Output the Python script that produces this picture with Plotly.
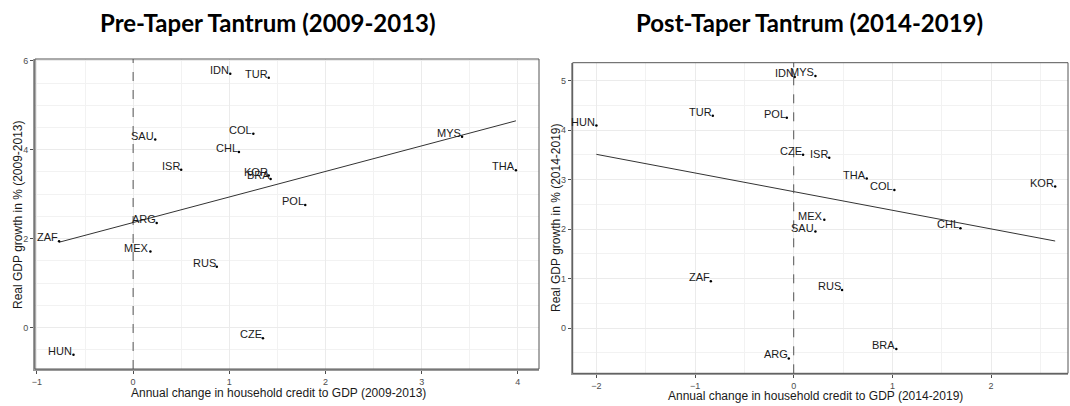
import plotly.graph_objects as go

# ---------------- data ----------------
pre_codes = ["IDN", "TUR", "SAU", "COL", "CHL", "ISR", "KOR", "BRA", "ARG",
             "ZAF", "MEX", "RUS", "CZE", "HUN", "POL", "MYS", "THA"]
pre_credit = [1.01, 1.41, 0.23, 1.25, 1.10, 0.50, 1.41, 1.43, 0.245,
              -0.77, 0.18, 0.87, 1.35, -0.62, 1.79, 3.42, 3.98]
pre_growth = [5.71, 5.62, 4.23, 4.36, 3.95, 3.55, 3.42, 3.34, 2.35,
              1.94, 1.71, 1.37, -0.24, -0.61, 2.76, 4.29, 3.54]
pre_fit_x = [-0.77, 3.98]
pre_fit_y = [1.92, 4.65]

post_codes = ["IDN", "MYS", "HUN", "TUR", "POL", "CZE", "ISR", "THA", "COL",
              "KOR", "MEX", "SAU", "CHL", "ZAF", "ARG", "RUS", "BRA"]
post_credit = [0.01, 0.22, -2.00, -0.82, -0.07, 0.095, 0.36, 0.74, 1.02,
               2.65, 0.31, 0.22, 1.69, -0.84, -0.05, 0.49, 1.04]
post_growth = [5.07, 5.09, 4.09, 4.29, 4.25, 3.50, 3.44, 3.02, 2.79,
               2.86, 2.19, 1.95, 2.02, 0.95, -0.61, 0.77, -0.42]
post_fit_x = [-2.00, 2.65]
post_fit_y = [3.51, 1.76]

titles = ["Pre-Taper Tantrum (2009-2013)", "Post-Taper Tantrum (2014-2019)"]
x_titles = ["Annual change in household credit to GDP (2009-2013)",
            "Annual change in household credit to GDP (2014-2019)"]
y_titles = ["Real GDP growth in % (2009-2013)", "Real GDP growth in % (2014-2019)"]

# ---------------- figure ----------------
W, H = 1070, 406
fig = go.Figure()

panels = [
    dict(codes=pre_codes, x=pre_credit, y=pre_growth, fx=pre_fit_x, fy=pre_fit_y,
         xa="x", ya="y"),
    dict(codes=post_codes, x=post_credit, y=post_growth, fx=post_fit_x, fy=post_fit_y,
         xa="x2", ya="y2"),
]

annotations = []
for p in panels:
    fig.add_trace(go.Scatter(x=p["fx"], y=p["fy"], mode="lines",
                             line=dict(color="#333333", width=1),
                             xaxis=p["xa"], yaxis=p["ya"], showlegend=False,
                             hoverinfo="skip"))
    fig.add_trace(go.Scatter(x=p["x"], y=p["y"], mode="markers",
                             marker=dict(color="#000000", size=2.5),
                             xaxis=p["xa"], yaxis=p["ya"], showlegend=False,
                             text=p["codes"]))
    for c, xv, yv in zip(p["codes"], p["x"], p["y"]):
        annotations.append(dict(x=xv, y=yv, xref=p["xa"], yref=p["ya"], text=c,
                                showarrow=False, xanchor="right", yanchor="bottom",
                                yshift=-4, xshift=1,
                                font=dict(family="Liberation Sans, Arial", size=11,
                                          color="#1a1a1a")))

# titles and axis titles as paper annotations
title_font = dict(family="Lato, Open Sans", size=24, color="#000000")
annotations.append(dict(x=268 / W, y=1 - 22 / H, xref="paper", yref="paper",
                        text="<b>" + titles[0] + "</b>", showarrow=False,
                        xanchor="center", yanchor="middle", font=title_font))
annotations.append(dict(x=809 / W, y=1 - 22 / H, xref="paper", yref="paper",
                        text="<b>" + titles[1] + "</b>", showarrow=False,
                        xanchor="center", yanchor="middle", font=title_font))
ax_font = dict(family="Liberation Sans, Arial", size=12, color="#1a1a1a")
annotations.append(dict(x=278 / W, y=1 - 393 / H, xref="paper", yref="paper",
                        text=x_titles[0], showarrow=False, xanchor="center",
                        yanchor="middle", font=ax_font))
annotations.append(dict(x=815 / W, y=1 - 396 / H, xref="paper", yref="paper",
                        text=x_titles[1], showarrow=False, xanchor="center",
                        yanchor="middle", font=ax_font))
annotations.append(dict(x=18 / W, y=1 - 215 / H, xref="paper", yref="paper",
                        text=y_titles[0], showarrow=False, xanchor="center",
                        yanchor="middle", textangle=-90, font=ax_font))
annotations.append(dict(x=556 / W, y=1 - 218 / H, xref="paper", yref="paper",
                        text=y_titles[1], showarrow=False, xanchor="center",
                        yanchor="middle", textangle=-90, font=ax_font))

tick_font = dict(family="Liberation Sans, Arial", size=9, color="#4d4d4d")
common = dict(showgrid=True, gridcolor="#EBEBEB", gridwidth=1,
              minor=dict(showgrid=True, gridcolor="#F2F2F2", gridwidth=1, dtick=0.5),
              zeroline=False, showline=True, linecolor="#9a9a9a", linewidth=2,
              ticks="outside", ticklen=3, tickcolor="#4d4d4d", tickwidth=1,
              tickfont=tick_font, automargin=False, fixedrange=True)

fig.update_layout(
    width=W, height=H,
    margin=dict(l=0, r=0, t=0, b=0),
    paper_bgcolor="white", plot_bgcolor="white",
    xaxis=dict(domain=[35 / W, 539 / W], range=[-1.02, 4.22], dtick=1, anchor="y", **common),
    yaxis=dict(domain=[1 - 369 / H, 1 - 59 / H], range=[-0.93, 6.04], dtick=2, anchor="x", **common),
    xaxis2=dict(domain=[572.7 / W, 1068 / W], range=[-2.24, 2.78], dtick=1, anchor="y2", **common),
    yaxis2=dict(domain=[1 - 373.3 / H, 1 - 62.7 / H], range=[-0.91, 5.36], dtick=1, anchor="x2", **common),
    annotations=annotations,
    shapes=[
        dict(type="line", xref="x", yref="y domain", x0=0, x1=0, y0=0, y1=1,
             line=dict(color="#555555", width=1, dash="dash")),
        dict(type="line", xref="x2", yref="y2 domain", x0=0, x1=0, y0=0, y1=1,
             line=dict(color="#555555", width=1, dash="dash")),
        dict(type="rect", xref="x domain", yref="y domain", x0=0, x1=1, y0=0, y1=1,
             line=dict(color="#555555", width=1)),
        dict(type="rect", xref="x2 domain", yref="y2 domain", x0=0, x1=1, y0=0, y1=1,
             line=dict(color="#555555", width=1)),
    ],
)

fig.write_html("out.html", config={"displayModeBar": False},
               post_script="document.body.style.margin='0';document.body.style.overflow='hidden';")
